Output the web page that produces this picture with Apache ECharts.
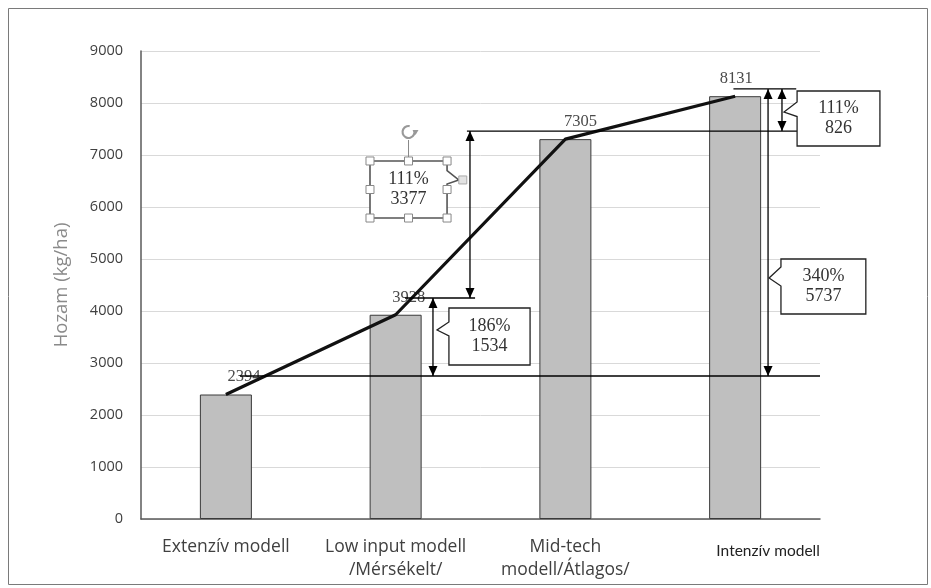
<!DOCTYPE html>
<html>
<head>
<meta charset="utf-8">
<script src="https://cdn.jsdelivr.net/npm/echarts@6/dist/echarts.min.js"></script>
<style>
  html, body { margin: 0; padding: 0; background: #fff; }
  #chart { width: 931px; height: 588px; }
</style>
</head>
<body>
<div id="chart"></div>
<script>
// Yield by production model
const categories = ['Extenzív modell', 'Low input modell\n/Mérsékelt/', 'Mid-tech\nmodell/Átlagos/', 'Intenzív modell'];
const yields = [2394, 3928, 7305, 8131];
const yMin = 0, yMax = 9000, yStep = 1000;

// Comparison annotations, in axis units: [category position, yield]
const baseLevel = 2750;
const guideLines = [
  [[0.083, baseLevel], [3.5, baseLevel]],
  [[1.055, 4250], [1.468, 4250]],
  [[1.42, 7460], [3.38, 7460]],
  [[2.99, 8270], [3.36, 8270]]
];
// double-headed arrows: [category position, from, to]
const arrows = [
  [1.22, baseLevel, 4250],
  [1.438, 4250, 7460],
  [3.194, baseLevel, 8270],
  [3.276, 7460, 8270]
];
const calloutPct = ['186%', '111%', '111%', '340%'];
const calloutDiff = [1534, 3377, 826, 5737];
// box [x0, x1, yTop, yBottom], pointer tip [x, y], notch [yTop, yBottom], side of pointer
const calloutBox = [
  [1.314, 1.792, 4058, 2962],
  [0.849, 1.303, 6885, 5788],
  [3.365, 3.853, 8231, 7173],
  [3.270, 3.770, 5000, 3942]
];
const calloutTip = [[1.244, 3635], [1.372, 6520], [3.288, 7827], [3.200, 4635]];
const calloutNotch = [[3788, 3519], [6700, 6440], [8020, 7740], [4846, 4480]];
const calloutSide = ['left', 'right', 'left', 'left'];
const selectedCallout = 1;

const labelShift = [18, 13, 15, 1];

const chart = echarts.init(document.getElementById('chart'));

function arrowHead(tip, dirY) {
  const len = 10, half = 4.5;
  return {
    type: 'polygon',
    shape: { points: [[tip[0], tip[1]], [tip[0] - half, tip[1] + dirY * len], [tip[0] + half, tip[1] + dirY * len]] },
    style: { fill: '#000' }
  };
}

function renderAnnotations(params, api) {
  const children = [];
  const lineStyle = { stroke: '#000', lineWidth: 1.3, fill: null };

  guideLines.forEach(function (seg) {
    const a = api.coord(seg[0]), b = api.coord(seg[1]);
    children.push({ type: 'line', shape: { x1: a[0], y1: a[1], x2: b[0], y2: b[1] },
      style: { stroke: '#000', lineWidth: seg[0][1] === baseLevel ? 1.6 : 1.3 } });
  });

  arrows.forEach(function (ar) {
    const lo = api.coord([ar[0], ar[1]]), hi = api.coord([ar[0], ar[2]]);
    children.push({ type: 'line', shape: { x1: lo[0], y1: lo[1], x2: hi[0], y2: hi[1] }, style: lineStyle });
    children.push(arrowHead(hi, 1));
    children.push(arrowHead(lo, -1));
  });

  calloutBox.forEach(function (bx, i) {
    const tl = api.coord([bx[0], bx[2]]), br = api.coord([bx[1], bx[3]]);
    const tip = api.coord(calloutTip[i]);
    const n0 = api.coord([bx[0], calloutNotch[i][0]])[1];
    const n1 = api.coord([bx[0], calloutNotch[i][1]])[1];
    let pts;
    if (calloutSide[i] === 'left') {
      pts = [[tl[0], tl[1]], [br[0], tl[1]], [br[0], br[1]], [tl[0], br[1]],
             [tl[0], n1], [tip[0], tip[1]], [tl[0], n0]];
    } else {
      pts = [[tl[0], tl[1]], [br[0], tl[1]], [br[0], n0], [tip[0], tip[1]], [br[0], n1],
             [br[0], br[1]], [tl[0], br[1]]];
    }
    const selected = i === selectedCallout;
    children.push({ type: 'polygon', shape: { points: pts },
      style: { fill: '#fff', stroke: selected ? '#555' : '#222', lineWidth: selected ? 1.6 : 1.3 } });
    children.push({ type: 'text',
      style: { text: calloutPct[i] + '\n' + calloutDiff[i], x: (tl[0] + br[0]) / 2, y: (tl[1] + br[1]) / 2,
        align: 'center', verticalAlign: 'middle', font: '18px "Liberation Serif", serif',
        lineHeight: 20, fill: '#333' } });

    if (selected) {
      const cx = (tl[0] + br[0]) / 2, cy = (tl[1] + br[1]) / 2;
      const rot = [cx, tl[1] - 29];
      children.push({ type: 'line', shape: { x1: cx, y1: tl[1], x2: cx, y2: rot[1] + 8 },
        style: { stroke: '#888', lineWidth: 1 } });
      children.push({ type: 'arc', shape: { cx: rot[0], cy: rot[1], r: 6, startAngle: -0.3, endAngle: 4.9, clockwise: true },
        style: { stroke: '#999', lineWidth: 2.2, fill: null } });
      children.push({ type: 'polygon', shape: { points: [[rot[0] + 4, rot[1] - 2], [rot[0] + 10, rot[1] - 2], [rot[0] + 7, rot[1] + 3]] },
        style: { fill: '#999' } });
      const hs = [[tl[0], tl[1]], [cx, tl[1]], [br[0], tl[1]], [tl[0], cy], [br[0], cy],
                  [tl[0], br[1]], [cx, br[1]], [br[0], br[1]]];
      hs.forEach(function (h) {
        children.push({ type: 'rect', shape: { x: h[0] - 4, y: h[1] - 4, width: 8, height: 8 },
          style: { fill: '#fff', stroke: '#888', lineWidth: 1 } });
      });
      children.push({ type: 'rect', shape: { x: tip[0], y: tip[1] - 4, width: 8, height: 8 },
        style: { fill: '#e3e3e3', stroke: '#aaa', lineWidth: 1 } });
    }
  });

  return { type: 'group', children: children };
}

const option = {
  animation: false,
  backgroundColor: '#fff',
  grid: { left: 141, right: 111, top: 51, bottom: 69, containLabel: false },
  xAxis: [{
    type: 'category',
    data: categories.map(function (c, i) {
      return i === 3 ? { value: c, textStyle: { padding: [3, 0, 0, 66], color: '#222', fontFamily: 'Lato', fontSize: 15.5 } } : c;
    }),
    axisLine: { lineStyle: { color: '#5a5a5a', width: 1.5 } },
    axisTick: { show: false },
    axisLabel: { margin: 17, color: '#404040', fontSize: 17.5, fontFamily: '"Open Sans", sans-serif', lineHeight: 23, interval: 0 }
  }, {
    type: 'value', min: -0.5, max: 3.5, show: false
  }],
  yAxis: {
    type: 'value', min: yMin, max: yMax, interval: yStep,
    name: 'Hozam (kg/ha)', nameLocation: 'middle', nameGap: 70,
    nameTextStyle: { color: '#8a8a8a', fontSize: 18.5, fontFamily: '"Open Sans", sans-serif' },
    axisLine: { show: true, onZero: false, lineStyle: { color: '#5a5a5a', width: 1.5 } },
    axisTick: { show: false },
    axisLabel: { margin: 18, color: '#404040', fontSize: 14.5, fontFamily: '"Open Sans", sans-serif',
      formatter: function (v) { return String(v); } },
    splitLine: { lineStyle: { color: '#d9d9d9', width: 1 } }
  },
  series: [{
    type: 'bar',
    data: yields.map(function (v, i) {
      return { value: v, label: { offset: [labelShift[i], 0] } };
    }),
    barWidth: 52,
    itemStyle: { color: '#bfbfbf', borderColor: '#3a3a3a', borderWidth: 1 },
    label: { show: true, position: 'top', distance: 9, color: '#4a4a4a', fontSize: 16.5, fontFamily: '"Liberation Serif", serif' },
    z: 2
  }, {
    type: 'line',
    data: yields,
    symbol: 'none',
    lineStyle: { color: '#111', width: 3.2 },
    z: 4
  }, {
    type: 'custom',
    xAxisIndex: 1,
    data: [[0, 0]],
    renderItem: renderAnnotations,
    clip: false,
    z: 5,
    silent: true
  }],
  graphic: [{
    type: 'rect', left: 6, top: 6,
    shape: { width: 919, height: 576 },
    style: { fill: null, stroke: '#7a7a7a', lineWidth: 1 },
    silent: true
  }]
};

chart.setOption(option);
</script>
</body>
</html>
